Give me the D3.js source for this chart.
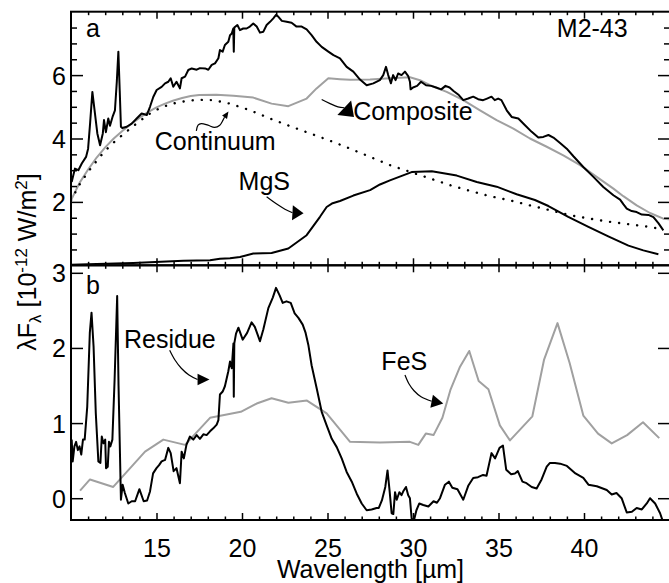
<!DOCTYPE html>
<html><head><meta charset="utf-8">
<script src="https://cdn.jsdelivr.net/npm/d3@7"></script>
<style>
body{margin:0;background:#fff}
svg{display:block}
text{font-family:"Liberation Sans",Arial,Helvetica,sans-serif;fill:#000}
</style>
</head><body>
<svg id="chart" width="669" height="583"></svg>
<script>
// ---------- DATA ----------
// Panel a: observed spectrum
const obsWl = [10.04,10.23,10.43,10.63,10.88,11.0,11.12,11.25,11.4,11.54,11.7,11.86,11.93,12.04,12.18,12.28,12.44,12.57,12.68,12.77,12.85,12.92,13.0,13.26,13.55,13.84,14.13,14.43,14.62,14.81,15.01,15.3,15.5,15.69,15.83,15.98,16.17,16.37,16.47,16.67,16.86,17.06,17.35,17.54,17.84,18.03,18.23,18.42,18.62,18.71,18.87,19.0,19.2,19.3,19.4,19.49,19.52,19.55,19.73,19.88,20.07,20.27,20.46,20.66,20.86,21.05,21.25,21.44,21.64,21.83,21.99,22.13,22.33,22.61,22.9,23.19,23.49,23.78,24.07,24.36,24.66,25.05,25.35,25.73,26.12,26.51,26.9,27.29,27.68,28.06,28.26,28.42,28.55,28.71,28.84,28.98,29.13,29.33,29.53,29.72,29.82,29.86,30.0,30.24,30.47,30.76,31.06,31.35,31.65,31.9,32.14,32.37,32.68,32.94,33.23,33.52,33.81,34.1,34.33,34.59,34.78,34.98,35.17,35.48,35.77,36.16,36.55,36.94,37.33,37.62,37.92,38.21,38.6,38.99,39.38,39.96,40.55,41.13,41.72,42.11,42.31,42.5,42.79,43.08,43.38,43.77,44.06,44.35,44.64];
const obsFlux = [2.63,3.05,3.0,3.21,3.42,3.68,4.5,5.47,4.79,4.16,3.79,4.16,4.58,4.2,4.63,4.4,4.7,4.89,5.8,6.74,5.5,4.37,4.33,4.37,4.47,4.63,4.79,4.74,5.0,5.31,5.53,5.63,5.74,5.79,5.9,5.63,5.79,5.58,5.9,5.95,6.16,6.21,6.17,6.22,6.21,6.17,6.32,6.37,6.53,6.79,6.74,6.95,7.05,7.26,7.31,7.47,6.74,7.5,7.58,7.42,7.47,7.47,7.53,7.63,7.53,7.34,7.37,7.58,7.68,7.79,7.9,7.84,7.71,7.68,7.65,7.53,7.53,7.44,7.26,7.05,6.89,6.74,6.63,6.53,6.26,6.11,5.86,5.68,5.74,5.84,6.0,6.26,6.0,5.74,6.0,5.84,6.05,6.0,6.11,5.97,5.79,5.55,5.61,5.66,5.79,5.68,5.66,5.61,5.55,5.66,5.61,5.5,5.37,5.21,5.26,5.32,5.24,5.21,5.26,5.32,5.21,5.26,5.21,4.89,4.68,4.63,4.42,4.21,4.03,4.05,4.11,4.03,3.86,3.68,3.44,3.1,2.79,2.47,2.21,2.07,1.92,1.79,1.71,1.68,1.6,1.59,1.52,1.33,1.1];

// Panel a: composite fit (grey)
const compWl = [10.0,10.5,11.0,11.5,12.0,12.5,13.0,13.5,14.0,14.5,15.0,15.5,16.0,16.5,17.0,17.5,18.5,19.5,20.66,21.73,22.71,23.78,24.36,25.05,25.73,26.32,27.49,28.65,29.82,30.41,31.0,31.97,32.94,33.92,34.89,35.87,36.84,37.82,38.79,39.77,40.74,41.72,42.3,43.08,43.86,44.64,45.0];
const compFlux = [2.05,2.6,3.02,3.4,3.72,4.0,4.24,4.45,4.65,4.83,4.98,5.1,5.2,5.28,5.34,5.37,5.38,5.35,5.29,5.1,5.02,5.26,5.58,5.9,5.87,5.85,5.86,5.9,5.93,5.84,5.68,5.47,5.21,4.89,4.58,4.31,4.0,3.74,3.47,3.16,2.79,2.42,2.18,1.89,1.65,1.47,1.45];

// Panel a: continuum (dotted)
const contWl = [10.0,10.5,11.0,11.7,12.3,12.87,13.5,14.04,14.6,15.2,15.8,16.37,17.0,17.54,18.32,19.3,20.47,21.64,22.81,23.98,25.15,26.32,27.49,28.65,29.82,31.0,32.16,33.33,34.5,35.67,36.84,38.0,39.18,40.35,41.52,42.69,43.86,44.64];
const contFlux = [2.05,2.55,2.95,3.43,3.78,4.05,4.33,4.56,4.78,4.96,5.08,5.15,5.2,5.22,5.21,5.1,4.89,4.63,4.39,4.16,3.93,3.68,3.42,3.16,2.95,2.74,2.53,2.35,2.18,2.05,1.89,1.74,1.58,1.47,1.37,1.29,1.21,1.13];

// Panel a: MgS component
const mgsWl = [10.0,11.5,13.64,16.57,18.13,18.71,19.3,19.88,20.66,21.73,22.71,23.78,24.56,24.95,25.3,25.73,26.51,27.49,28.07,28.65,29.92,31.1,32.56,33.73,34.89,36.06,37.13,37.92,39.08,40.26,41.42,42.6,43.47,44.35];
const mgsFlux = [0.02,0.04,0.07,0.14,0.16,0.21,0.22,0.26,0.37,0.39,0.53,0.95,1.53,1.84,1.96,2.03,2.2,2.37,2.55,2.68,2.94,2.97,2.83,2.63,2.48,2.24,2.06,1.87,1.53,1.21,0.91,0.62,0.47,0.35];

// Panel b: residue
const resWl = [10.04,10.1,10.2,10.3,10.4,10.5,10.6,10.7,10.8,10.95,11.1,11.2,11.32,11.45,11.6,11.72,11.8,11.9,12.0,12.05,12.15,12.22,12.3,12.42,12.55,12.7,12.78,12.92,13.02,13.15,13.35,13.55,13.75,14.0,14.25,14.45,14.62,14.8,15.0,15.15,15.3,15.5,15.69,15.83,16.0,16.17,16.37,16.47,16.6,16.75,16.95,17.15,17.35,17.54,17.74,17.93,18.13,18.32,18.52,18.62,18.71,18.87,19.0,19.2,19.3,19.4,19.5,19.52,19.55,19.65,19.79,19.9,20.04,20.3,20.56,20.75,21.05,21.25,21.54,21.8,21.99,22.2,22.38,22.6,22.85,23.08,23.3,23.55,23.72,23.88,24.07,24.37,24.66,24.95,25.25,25.54,25.83,26.12,26.42,26.71,27.0,27.29,27.58,27.87,28.0,28.18,28.38,28.51,28.63,28.75,28.85,28.95,29.05,29.2,29.33,29.45,29.59,29.72,29.82,29.92,30.05,30.2,30.37,30.6,30.9,31.2,31.4,31.58,31.87,32.1,32.3,32.6,32.94,33.24,33.52,33.8,34.1,34.3,34.59,34.8,35.06,35.26,35.45,35.74,35.96,36.13,36.4,36.64,36.94,37.23,37.52,37.82,38.01,38.3,38.6,39.0,39.5,39.96,40.26,40.75,41.33,41.62,41.9,42.2,42.5,42.8,43.08,43.38,43.67,43.86,44.16,44.45,44.6];
const resFlux = [0.78,0.49,0.69,0.75,0.64,0.69,0.58,0.78,0.78,1.22,2.2,2.47,2.02,1.13,0.49,0.47,0.82,0.73,0.78,0.4,0.42,0.75,0.69,0.78,1.58,2.69,1.5,-0.02,0.18,0.07,-0.07,-0.04,-0.04,0.12,-0.04,-0.03,0.09,0.33,0.4,0.44,0.49,0.51,0.67,0.6,0.36,0.4,0.2,0.62,0.53,0.71,0.82,0.78,0.84,0.79,0.85,0.84,0.89,0.93,0.98,1.04,1.38,1.42,1.49,1.69,1.82,1.73,2.06,1.35,2.06,2.19,2.27,2.2,2.11,2.2,2.34,2.28,2.09,2.25,2.53,2.67,2.8,2.7,2.6,2.62,2.6,2.46,2.4,2.31,2.2,2.04,1.77,1.46,1.15,0.97,0.79,0.68,0.53,0.35,0.22,0.06,-0.07,-0.16,-0.15,-0.13,-0.13,-0.03,0.15,0.37,0.1,-0.2,-0.21,0.08,-0.02,0.08,0.04,0.1,0.15,0.04,0.0,-0.27,-0.3,-0.16,-0.07,-0.09,-0.11,-0.04,-0.06,0.0,0.18,0.22,0.14,0.12,-0.02,0.17,0.27,0.28,0.31,0.3,0.6,0.53,0.67,0.7,0.38,0.32,0.33,0.36,0.22,0.2,0.15,0.13,0.25,0.42,0.47,0.47,0.46,0.43,0.33,0.27,0.18,0.16,0.11,0.05,0.07,0.0,-0.19,-0.18,-0.13,-0.15,-0.07,0.0,-0.07,-0.2,-0.3];

// Panel b: FeS component (grey)
const fesWl = [10.53,11.11,12.47,14.33,15.4,16.67,18.13,19.93,20.86,21.73,22.71,23.8,24.95,26.32,28.07,29.82,30.31,30.75,31.2,31.72,32.2,32.75,33.29,33.84,34.41,35.08,35.67,36.98,37.66,38.45,39.16,39.96,40.82,41.62,42.52,43.45,44.4];
const fesFlux = [0.1,0.25,0.15,0.62,0.78,0.71,1.07,1.15,1.26,1.33,1.27,1.3,1.13,0.75,0.74,0.75,0.71,0.86,0.84,1.07,1.45,1.75,1.96,1.56,1.45,0.97,0.77,1.09,1.84,2.33,1.8,1.1,0.86,0.73,0.84,1.01,0.8];

// Tick values and labels
const xMajorTicks = [15,20,25,30,35,40];
const xMinorTicks = d3.range(11,45,1).filter(v => v % 5 !== 0);
const topYMajor = [2,4,6];
const topYMinor = d3.range(0.5,8,0.5).filter(v => v % 2 !== 0);
const botYMajor = [0,1,2,3];
const xTitle = "Wavelength [\u00b5m]";
const panelLabels = ["a","b"];
const objectName = "M2-43";

// ---------- LAYOUT ----------
const svg = d3.select("#chart");
const L = 71, R = 670, T = 11.7, MID = 265.3, B = 520;
const FONT = 25;
const SMALL = 17;
const grey = "#a0a0a0";

const x = d3.scaleLinear().domain([10, 10 + (R - L) / 17.1]).range([L, R]);
const yA = d3.scaleLinear().domain([0, 8]).range([MID, T]);
const yB = d3.scaleLinear().domain([-0.29, 3.1]).range([B, MID]);

const defs = svg.append("defs");
defs.append("clipPath").attr("id","clipA").append("rect").attr("x",L).attr("y",T).attr("width",R-L).attr("height",MID-T);
defs.append("clipPath").attr("id","clipB").append("rect").attr("x",L).attr("y",MID).attr("width",R-L).attr("height",B-MID);

const zip = (a,b) => a.map((v,i) => [v,b[i]]);
const lineA = d3.line().x(d => x(d[0])).y(d => yA(d[1]));
const lineB = d3.line().x(d => x(d[0])).y(d => yB(d[1]));

const gA = svg.append("g").attr("clip-path","url(#clipA)");
const gB = svg.append("g").attr("clip-path","url(#clipB)");

function drawLine(g, gen, data, color, width, dash){
  const p = g.append("path").datum(data).attr("d", gen)
    .attr("fill","none").attr("stroke",color).attr("stroke-width",width)
    .attr("stroke-linejoin","round");
  if (dash) p.attr("stroke-dasharray", dash).attr("stroke-linecap","round");
  return p;
}

// Panel a
drawLine(gA, lineA, zip(compWl, compFlux), grey, 2);
drawLine(gA, lineA, zip(contWl, contFlux), "#000", 2.4, "0.1,9");
drawLine(gA, lineA, zip(mgsWl, mgsFlux), "#000", 2);
drawLine(gA, lineA, zip(obsWl, obsFlux), "#000", 2);
// Panel b
drawLine(gB, lineB, zip(fesWl, fesFlux), grey, 2);
drawLine(gB, lineB, zip(resWl, resFlux), "#000", 2);

// ---------- AXES ----------
function axis(gen, scale, vals, size, tx, ty, withLabels, pad){
  const a = gen(scale).tickValues(vals).tickSize(-size).tickPadding(pad || 3)
    .tickFormat(withLabels ? d3.format("d") : "");
  const g = svg.append("g").attr("transform",`translate(${tx},${ty})`).call(a);
  g.select(".domain").remove();
  g.selectAll(".tick line").attr("stroke","#000").attr("stroke-width",1.5);
  g.selectAll("text").attr("font-size",FONT).attr("font-family",'"Liberation Sans",Arial,sans-serif').attr("fill","#000");
  return g;
}
const XMAJ = 7, XMIN = 3.5, YMAJ = 12, YMIN = 6;
// x-axes (top panel top & bottom, bottom panel top & bottom)
for (const [gen, ty] of [[d3.axisTop, T],[d3.axisBottom, MID],[d3.axisTop, MID]]) {
  axis(gen, x, xMajorTicks, XMAJ, 0, ty, false);
  axis(gen, x, xMinorTicks, XMIN, 0, ty, false);
}
axis(d3.axisBottom, x, xMajorTicks, XMAJ, 0, B, true, 19);
axis(d3.axisBottom, x, xMinorTicks, XMIN, 0, B, false);
// y-axes top panel
axis(d3.axisLeft, yA, topYMajor, YMAJ, L, 0, true, 5);
axis(d3.axisLeft, yA, topYMinor, YMIN, L, 0, false);
axis(d3.axisRight, yA, topYMajor, YMAJ, R, 0, false);
axis(d3.axisRight, yA, topYMinor, YMIN, R, 0, false);
// y-axes bottom panel
axis(d3.axisLeft, yB, botYMajor, YMAJ, L, 0, true, 5);
axis(d3.axisRight, yB, botYMajor, YMAJ, R, 0, false);
svg.selectAll("g text").filter(function(){return this.getAttribute("dy")==="0.32em";}).attr("dy","0.36em");

// frames
svg.append("rect").attr("x",L).attr("y",T).attr("width",R-L).attr("height",MID-T)
  .attr("fill","none").attr("stroke","#000").attr("stroke-width",2);
svg.append("rect").attr("x",L).attr("y",MID).attr("width",R-L).attr("height",B-MID)
  .attr("fill","none").attr("stroke","#000").attr("stroke-width",2);

// ---------- TEXT ----------
svg.append("text").attr("x",(L+R)/2).attr("y",577.5).attr("text-anchor","middle")
  .attr("font-size",FONT).text(xTitle);

const yl = svg.append("text").attr("transform",`translate(36,262) rotate(-90)`)
  .attr("text-anchor","middle").attr("font-size",FONT);
yl.append("tspan").text("\u03bbF");
yl.append("tspan").attr("font-size",SMALL).attr("dy",5).text("\u03bb");
yl.append("tspan").attr("dy",-5).text(" [10");
yl.append("tspan").attr("font-size",SMALL).attr("dy",-9).text("-12");
yl.append("tspan").attr("dy",9).text(" W/m");
yl.append("tspan").attr("font-size",SMALL).attr("dy",-9).text("2");
yl.append("tspan").attr("dy",9).text("]");

svg.append("text").attr("x",86).attr("y",36.7).attr("font-size",FONT).text(panelLabels[0]);
svg.append("text").attr("x",86).attr("y",293.5).attr("font-size",FONT).text(panelLabels[1]);
svg.append("text").attr("x",627.7).attr("y",36.7).attr("text-anchor","end").attr("font-size",FONT).text(objectName);

// ---------- ANNOTATIONS (data units) ----------
const notes = [
  {panel:"a", text:"Continuum", tx:14.9, ty:3.63,
   path:[[17.33,4.24],[17.43,4.42],[17.62,4.47],[18.01,4.42],[18.4,4.35],[18.7,4.42],[18.89,4.58],[18.98,4.67]],
   tip:[19.21,4.85], hw:3},
  {panel:"a", text:"Composite", tx:26.5, ty:4.58,
   path:[[24.66,5.23],[25.15,5.1],[25.61,5.0],[25.98,4.97]],
   tip:[26.55,4.68], hw:10},
  {panel:"a", text:"MgS", tx:19.8, ty:2.37,
   path:[[21.44,2.16],[22.03,1.93],[22.51,1.77],[22.95,1.66]],
   tip:[23.6,1.64], hw:7.5},
  {panel:"b", text:"Residue", tx:13.1, ty:2.0,
   path:[[15.77,1.97],[16.08,1.84],[16.45,1.73],[16.9,1.64],[17.4,1.58]],
   tip:[18.1,1.58], hw:5.7},
  {panel:"b", text:"FeS", tx:28.15, ty:1.70,
   path:[[29.53,1.64],[29.77,1.52],[30.06,1.43],[30.47,1.35],[31.09,1.29]],
   tip:[31.77,1.26], hw:6.7}
];
for (const n of notes){
  const ys = n.panel === "a" ? yA : yB;
  const pts = n.path.map(p => [x(p[0]), ys(p[1])]);
  svg.append("path").attr("d", d3.line().curve(d3.curveCatmullRom)(pts))
    .attr("fill","none").attr("stroke","#000").attr("stroke-width",1.2);
  const base = pts[pts.length-1];
  const tip = [x(n.tip[0]), ys(n.tip[1])];
  const dx = tip[0]-base[0], dy = tip[1]-base[1], len = Math.hypot(dx,dy);
  const px = -dy/len*n.hw, py = dx/len*n.hw;
  svg.append("path").attr("d", `M${tip[0]},${tip[1]}L${base[0]+px},${base[1]+py}L${base[0]-px},${base[1]-py}Z`)
    .attr("fill","#000");
  svg.append("text").attr("x", x(n.tx)).attr("y", ys(n.ty)).attr("font-size",FONT).text(n.text);
}
</script>
</body></html>
